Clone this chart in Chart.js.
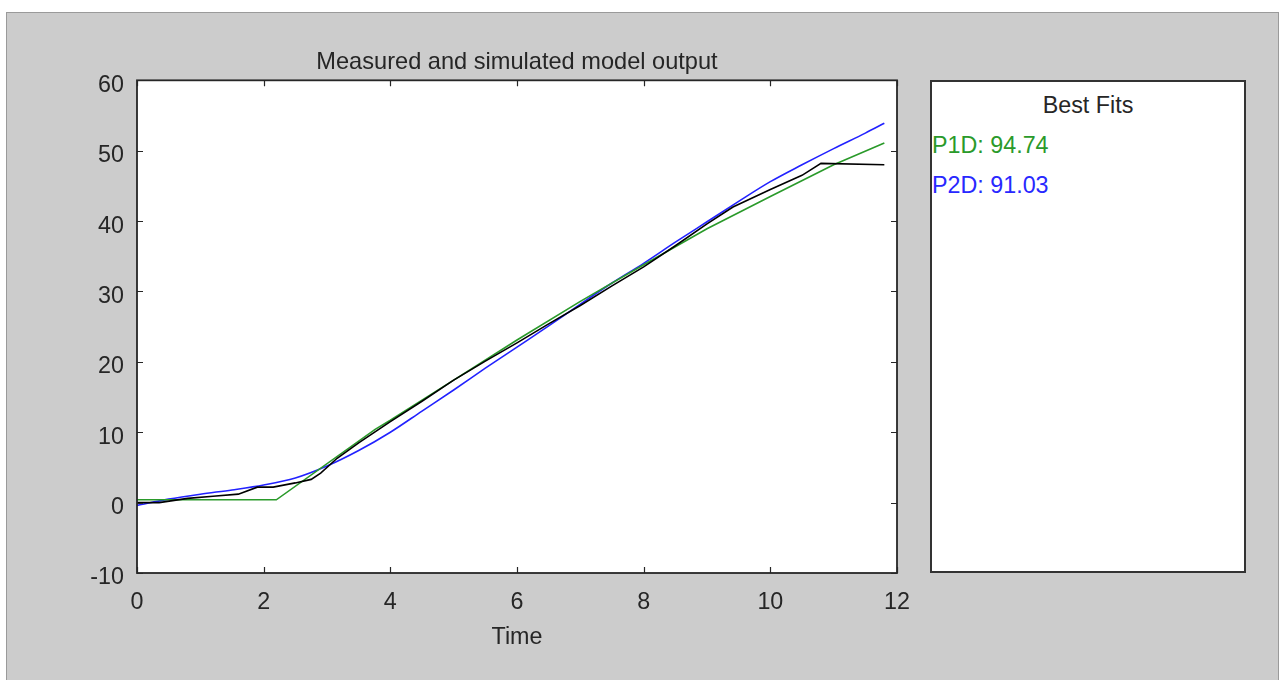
<!DOCTYPE html>
<html>
<head>
<meta charset="utf-8">
<script src="https://cdn.jsdelivr.net/npm/chart.js@4"></script>
<style>
  html, body { margin:0; padding:0; background:#ffffff; width:1283px; height:680px; overflow:hidden; }
  #fig { position:absolute; left:6px; top:12px; width:1273px; height:668px; background:#cccccc; border-left:1px solid #9a9a9a; border-top:1px solid #9a9a9a; border-right:1px solid #9a9a9a; box-sizing:border-box; }
  #c { position:absolute; left:0; top:0; }
  #panel { position:absolute; left:930px; top:80px; width:316px; height:493px; background:#fff; border:2px solid #333; box-sizing:border-box; font-family:"Liberation Sans", Arial, sans-serif; font-size:23.3px; line-height:28px; }
  #panel .hdr { position:absolute; left:0; width:100%; top:9px; text-align:center; color:#262626; }
  #panel .fit { position:absolute; left:0px; }
</style>
</head>
<body>
<div id="fig"></div>
<canvas id="c" width="1283" height="680"></canvas>
<div id="panel">
  <div class="hdr">Best Fits</div>
  <div class="fit" id="f1" style="top:49px;color:#2a9a2a">P1D: 94.74</div>
  <div class="fit" id="f2" style="top:89px;color:#2828ff">P2D: 91.03</div>
</div>
<script>
// ---- data ----
const measuredT = [0, 0.35, 0.8, 1.2, 1.6, 1.9, 2.15, 2.5, 2.75, 2.9, 3.16, 3.5, 4, 4.5, 5, 5.5, 6, 6.5, 7, 7.5, 8, 8.5, 9, 9.41, 10, 10.5, 10.8, 11.8];
const measuredY = [0, 0, 0.6, 0.9, 1.2, 2.2, 2.2, 2.8, 3.3, 4.2, 6.3, 8.5, 11.5, 14.4, 17.4, 20.1, 22.7, 25.4, 28.0, 30.8, 33.5, 36.5, 39.6, 42.0, 44.5, 46.5, 48.2, 48.0];

const p1dT = [0, 2.2, 3.76, 4, 5, 6, 7, 8, 9, 10, 11, 11.8];
const p1dY = [0.4, 0.4, 10.4, 11.7, 17.4, 23.1, 28.6, 33.8, 38.9, 43.5, 48.0, 51.1];

const p2dT = [0, 0.5, 1, 1.5, 2, 2.5, 3, 3.5, 4, 4.5, 5, 5.5, 6, 6.5, 7, 7.5, 8, 8.5, 9, 9.5, 10, 10.5, 11, 11.5, 11.8];
const p2dY = [-0.4, 0.5, 1.2, 1.8, 2.5, 3.5, 5.2, 7.4, 10.0, 13.0, 16.0, 19.1, 22.1, 25.1, 28.2, 31.2, 34.0, 37.0, 39.9, 42.8, 45.6, 48.0, 50.3, 52.5, 53.9];

const xTicks = [0, 2, 4, 6, 8, 10, 12];
const yTicks = [-10, 0, 10, 20, 30, 40, 50, 60];

const titleText = 'Measured and simulated model output';
const xTitle = 'Time';
const seriesNames = ['Measured', 'P1D', 'P2D'];
const seriesColors = ['#000000', '#2a9a2a', '#2222ff'];

const zip = (t, y) => t.map((v, i) => ({x: v, y: y[i]}));
const FONT = '"Liberation Sans", Arial, sans-serif';
const TXT = '#262626';
const FS = 23.3;

const plotBg = {
  id: 'plotBg',
  beforeDraw(chart) {
    const {ctx, chartArea: a} = chart;
    ctx.save();
    ctx.fillStyle = '#ffffff';
    ctx.fillRect(a.left, a.top, a.right - a.left, a.bottom - a.top);
    ctx.restore();
  },
  afterDraw(chart) {
    const {ctx, chartArea: a, scales} = chart;
    ctx.save();
    ctx.strokeStyle = '#262626';
    ctx.lineWidth = 1.8;
    ctx.strokeRect(a.left, a.top, a.right - a.left, a.bottom - a.top);
    ctx.lineWidth = 1.2;
    const L = 6;
    ctx.beginPath();
    xTicks.forEach(v => {
      const px = Math.round(scales.x.getPixelForValue(v)) + 0.5;
      ctx.moveTo(px, a.bottom); ctx.lineTo(px, a.bottom - L);
      ctx.moveTo(px, a.top); ctx.lineTo(px, a.top + L);
    });
    yTicks.forEach(v => {
      const py = Math.round(scales.y.getPixelForValue(v)) + 0.5;
      ctx.moveTo(a.left, py); ctx.lineTo(a.left + L, py);
      ctx.moveTo(a.right, py); ctx.lineTo(a.right - L, py);
    });
    ctx.stroke();
    ctx.restore();
  }
};

new Chart(document.getElementById('c'), {
  type: 'line',
  data: {
    datasets: [
      {label: seriesNames[0], data: zip(measuredT, measuredY), borderColor: seriesColors[0], borderWidth: 1.6, pointRadius: 0, tension: 0, fill: false},
      {label: seriesNames[1], data: zip(p1dT, p1dY), borderColor: seriesColors[1], borderWidth: 1.6, pointRadius: 0, tension: 0, fill: false},
      {label: seriesNames[2], data: zip(p2dT, p2dY), borderColor: seriesColors[2], borderWidth: 1.6, pointRadius: 0, cubicInterpolationMode: 'monotone', fill: false}
    ]
  },
  options: {
    responsive: false,
    animation: false,
    layout: { padding: { left: 0, right: 386, top: 12, bottom: 0 } },
    plugins: {
      legend: { display: false },
      tooltip: { enabled: false },
      title: { display: true, fullSize: false, text: titleText, color: TXT, font: { family: FONT, size: 23.6, weight: 'normal' }, padding: { top: 36, bottom: 4 } }
    },
    scales: {
      x: {
        type: 'linear', min: 0, max: 12,
        afterFit: s => { s.height = 107; },
        afterBuildTicks: s => { s.ticks = xTicks.map(v => ({value: v})); },
        grid: { display: false, drawTicks: false },
        border: { display: false },
        ticks: { color: TXT, font: { family: FONT, size: FS }, padding: 16, maxRotation: 0 },
        title: { display: true, text: xTitle, color: TXT, font: { family: FONT, size: FS }, padding: { top: 0, bottom: 28 } }
      },
      y: {
        type: 'linear', min: -10, max: 60,
        afterFit: s => { s.width = 137; },
        afterBuildTicks: s => { s.ticks = yTicks.map(v => ({value: v})); },
        grid: { display: false, drawTicks: false },
        border: { display: false },
        ticks: { color: TXT, font: { family: FONT, size: FS }, padding: 13, labelOffset: 5 }
      }
    }
  },
  plugins: [plotBg]
});
</script>
</body>
</html>
